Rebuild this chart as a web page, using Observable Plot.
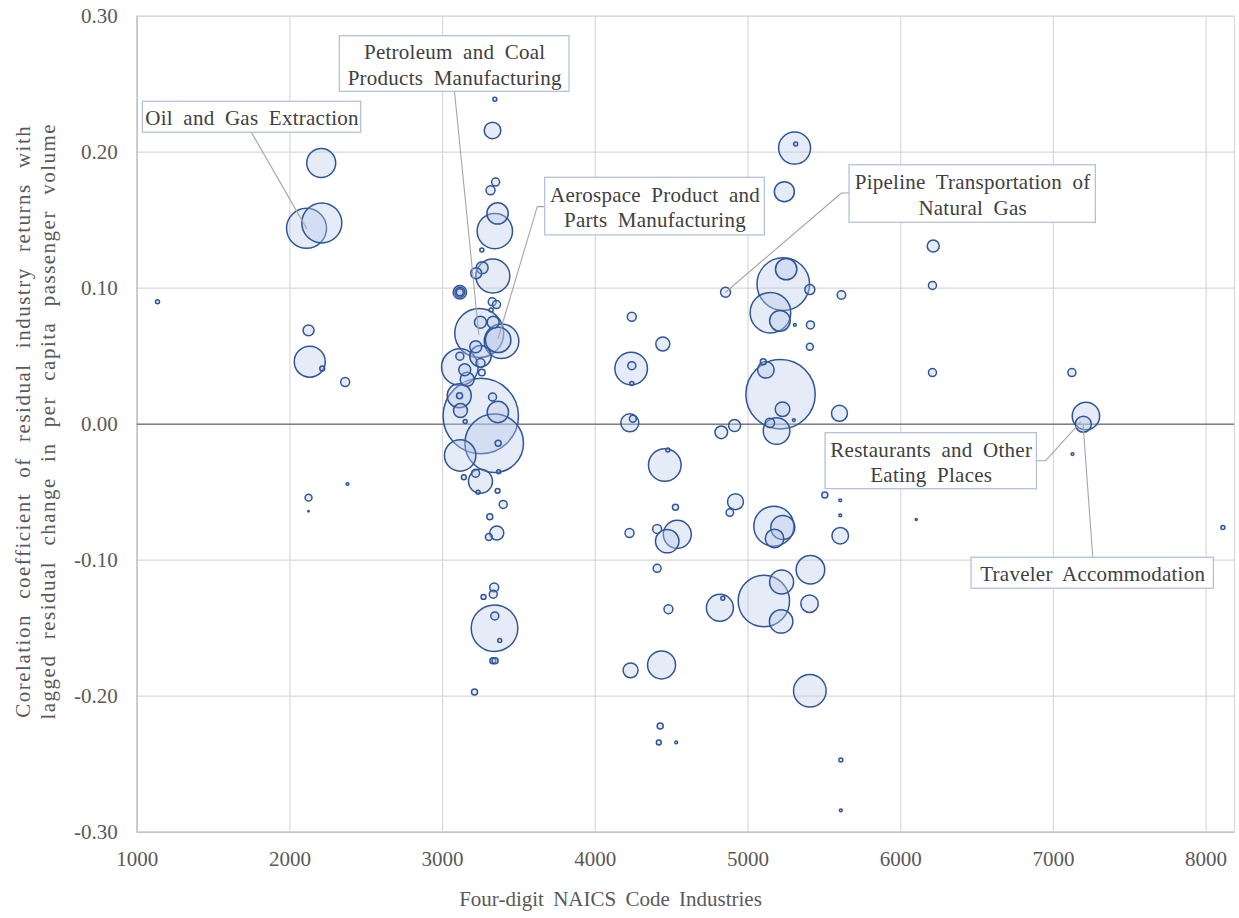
<!DOCTYPE html>
<html>
<head>
<meta charset="utf-8">
<script src="https://cdn.jsdelivr.net/npm/d3@7"></script>
<script src="https://cdn.jsdelivr.net/npm/@observablehq/plot@0.6"></script>
<style>
  body { margin: 0; background: #ffffff; }
  #chart svg { display: block; }
</style>
</head>
<body>
<div id="chart"></div>
<script>
// Four-digit NAICS code of each industry (x)
const naics = [
  1133, 2109, 2209, 2205, 2122, 2130, 2212, 2362, 2377, 2122, 2122,
  3342, 3327, 3347, 3314, 3360, 3342, 3257, 3259, 3220, 3329, 3113, 3113, 3113,
  3325, 3353, 3318, 3240, 3248, 3331, 3386, 3364, 3217, 3248, 3248, 3257,
  3113, 3113, 3145, 3161, 3109, 3111, 3117, 3148, 3250, 3327, 3362, 3338,
  3364, 3115, 3139, 3216, 3248, 3367, 3232, 3360, 3397, 3309, 3355, 3303,
  3338, 3332, 3268, 3340, 3342, 3374, 3329, 3344, 3209,
  4239, 4442, 4235, 4239, 4239, 4226, 4246, 4455, 4475, 4525, 4224, 4405,
  4537, 4471, 4405, 4479, 4231, 4434, 4425, 4416, 4530,
  4853, 4825, 4912, 4918, 4881, 4816, 4835,
  5305, 5312, 5238, 5231, 5250, 5405, 5612, 5147, 5209, 5307, 5409, 5405,
  5100, 5117, 5213, 5226, 5300, 5143, 5187, 5599, 5503, 5604, 5604, 5604,
  5169, 5228, 5174, 5409, 5220, 5104, 5403, 5217, 5405, 5608, 5608,
  6213, 6208, 6208, 7121, 7213, 7196, 7125, 6102, 8110
];
// Correlation coefficient (y)
const corr = [
  0.090, 0.144, 0.148, 0.192, 0.069, 0.046, 0.041, 0.031, -0.044, -0.054, -0.064,
  0.239, 0.216, 0.178, 0.172, 0.155, 0.142, 0.128, 0.115, 0.111, 0.109, 0.097, 0.097, 0.097,
  0.090, 0.088, 0.084, 0.067, 0.075, 0.075, 0.061, 0.062, 0.057, 0.050, 0.045, 0.038,
  0.042, 0.050, 0.040, 0.033, 0.021, 0.021, 0.010, 0.002, 0.006, 0.020, 0.009, -0.014,
  -0.014, -0.023, -0.039, -0.036, -0.042, -0.035, -0.050, -0.049, -0.059, -0.068, -0.080, -0.083,
  -0.120, -0.125, -0.127, -0.150, -0.141, -0.159, -0.174, -0.174, -0.197,
  0.079, 0.059, 0.041, 0.043, 0.030, 0.001, 0.004, -0.030, -0.019, -0.061, -0.080, -0.077,
  -0.081, -0.086, -0.106, -0.136, -0.181, -0.177, -0.222, -0.234, -0.234,
  0.097, -0.006, -0.001, -0.057, -0.065, -0.135, -0.128,
  0.203, 0.206, 0.171, 0.103, 0.114, 0.099, 0.095, 0.082, 0.076, 0.073, 0.073, 0.057,
  0.046, 0.040, 0.022, 0.011, 0.003, 0.001, -0.005, 0.008, -0.052, -0.056, -0.067, -0.082,
  -0.075, -0.076, -0.084, -0.107, -0.116, -0.130, -0.132, -0.145, -0.196, -0.247, -0.284,
  0.131, 0.102, 0.038, 0.038, 0.006, 0.000, -0.022, -0.070, -0.076
];
// Bubble size (relative industry weight)
const weight = [
  4, 400, 400, 210, 30, 240, 6, 20, 2, 12, 0.5,
  4, 69, 16, 20, 114, 313, 4, 36, 30, 289, 45, 25, 12,
  16, 16, 4, 600, 36, 36, 299, 161, 36, 114, 20, 11,
  335, 16, 36, 49, 144, 9, 49, 4, 1421, 16, 114, 858,
  9, 246, 6, 16, 144, 4, 4, 6, 16, 9, 49, 12,
  20, 16, 6, 543, 16, 4, 9, 9, 9,
  20, 49, 266, 16, 4, 81, 12, 266, 4, 9, 20, 20,
  196, 137, 16, 20, 56, 196, 9, 6, 2,
  25, 40, 36, 64, 14, 182, 4,
  256, 4, 100, 692, 114, 25, 18, 412, 106, 2, 16, 12,
  9, 69, 1204, 53, 2, 22, 177, 64, 9, 2, 2, 69,
  400, 144, 86, 204, 144, 660, 76, 137, 266, 4, 2,
  36, 16, 16, 16, 188, 64, 2, 1, 4
];

const xTicks = [1000, 2000, 3000, 4000, 5000, 6000, 7000, 8000];
const yTicks = [-0.3, -0.2, -0.1, 0, 0.1, 0.2, 0.3];

// Call-out boxes (box extent in data units) and their leader lines
const callouts = [
  {label: "Oil and Gas Extraction", x1: 1037, x2: 2467, y1: 0.2143, y2: 0.2371},
  {label: "Petroleum and Coal\nProducts Manufacturing", x1: 2327, x2: 3831, y1: 0.2444, y2: 0.2853},
  {label: "Aerospace Product and\nParts Manufacturing", x1: 3672, x2: 5110, y1: 0.1388, y2: 0.1812},
  {label: "Pipeline Transportation of\nNatural Gas", x1: 5665, x2: 7278, y1: 0.1481, y2: 0.1904},
  {label: "Restaurants and Other\nEating Places", x1: 5508, x2: 6892, y1: -0.0478, y2: -0.0066},
  {label: "Traveler Accommodation", x1: 6464, x2: 8051, y1: -0.1210, y2: -0.0982}
];
const leaders = [
  {id: 0, x: 1749, y: 0.2143}, {id: 0, x: 2109, y: 0.144},
  {id: 1, x: 3078, y: 0.2444}, {id: 1, x: 3237, y: 0.066},
  {id: 2, x: 3672, y: 0.160}, {id: 2, x: 3620, y: 0.160}, {id: 2, x: 3363, y: 0.063},
  {id: 3, x: 5665, y: 0.170}, {id: 3, x: 5612, y: 0.170}, {id: 3, x: 4853, y: 0.097},
  {id: 4, x: 6892, y: -0.0269}, {id: 4, x: 6948, y: -0.0269}, {id: 4, x: 7178, y: 0.0015},
  {id: 5, x: 7258, y: -0.0982}, {id: 5, x: 7195, y: -0.001}
];

const data = naics.map((x, i) => ({x, y: corr[i], s: weight[i]}));
const font = "'Liberation Serif', 'Times New Roman', serif";

const chart = Plot.plot({
  width: 1239,
  height: 918,
  marginLeft: 136.7,
  marginRight: 5,
  marginTop: 15.7,
  marginBottom: 86.3,
  style: {fontFamily: font, background: "#ffffff"},
  x: {domain: [1000, 8186]},
  y: {domain: [-0.3, 0.3]},
  r: {type: "sqrt", domain: [0, 1421], range: [0, 37.7]},
  marks: [
    Plot.gridX(xTicks, {stroke: "#d9d9d9", strokeOpacity: 1, strokeWidth: 1.2}),
    Plot.gridY(yTicks, {stroke: "#d9d9d9", strokeOpacity: 1, strokeWidth: 1.2}),
    Plot.frame({stroke: "#d9d9d9", strokeWidth: 1.2}),
    Plot.ruleX([1000], {stroke: "#c4c4c4", strokeWidth: 1.6}),
    Plot.ruleY([-0.3], {stroke: "#c4c4c4", strokeWidth: 1.6}),
    Plot.ruleY([0], {stroke: "#808080", strokeWidth: 1.5}),
    Plot.axisX(xTicks, {tickSize: 0, tickPadding: 19, fontSize: 21, color: "#595959", label: null, tickFormat: d => String(d)}),
    Plot.axisY(yTicks, {tickSize: 0, tickPadding: 19.5, fontSize: 21, color: "#595959", label: null, tickFormat: d => d.toFixed(2)}),
    Plot.dot(data, {x: "x", y: "y", r: "s", fill: "#b8c9ea", fillOpacity: 0.37, stroke: "#2f5597", strokeWidth: 1.5}),
    Plot.line(leaders, {x: "x", y: "y", z: "id", stroke: "#a6a6a6", strokeWidth: 1.1}),
    Plot.rect(callouts, {x1: "x1", x2: "x2", y1: "y1", y2: "y2", fill: "#ffffff", stroke: "#aebdd8", strokeWidth: 1.2}),
    Plot.text(callouts, {
      x: d => (d.x1 + d.x2) / 2, y: d => (d.y1 + d.y2) / 2, text: "label",
      fontSize: 21, fill: "#404040", lineHeight: 1.2, textAnchor: "middle"
    }),
    Plot.text(["Corelation coefficient of residual industry returns with\nlagged residual change in per capita passenger volume"], {
      frameAnchor: "left", rotate: -90, dx: -102.7, dy: -3, text: d => d,
      fontSize: 21, fill: "#595959", lineHeight: 1.17, textAnchor: "middle"
    }),
    Plot.text(["Four-digit NAICS Code Industries"], {
      frameAnchor: "bottom-left", dx: 473.3, dy: 73.3, text: d => d,
      fontSize: 21, fill: "#595959", textAnchor: "middle"
    })
  ]
});

// Excel-like wide word/letter spacing for the text marks (callouts, y title, x title)
const textGroups = chart.querySelectorAll('g[aria-label="text"]');
const spacing = [
  {letter: "0.25px", word: "5px"},
  {letter: "1.5px", word: "8.5px"},
  {letter: "0px", word: "4px"}
];
textGroups.forEach((g, i) => {
  if (!spacing[i]) return;
  g.style.letterSpacing = spacing[i].letter;
  g.style.wordSpacing = spacing[i].word;
});
document.getElementById("chart").appendChild(chart);
</script>
</body>
</html>
